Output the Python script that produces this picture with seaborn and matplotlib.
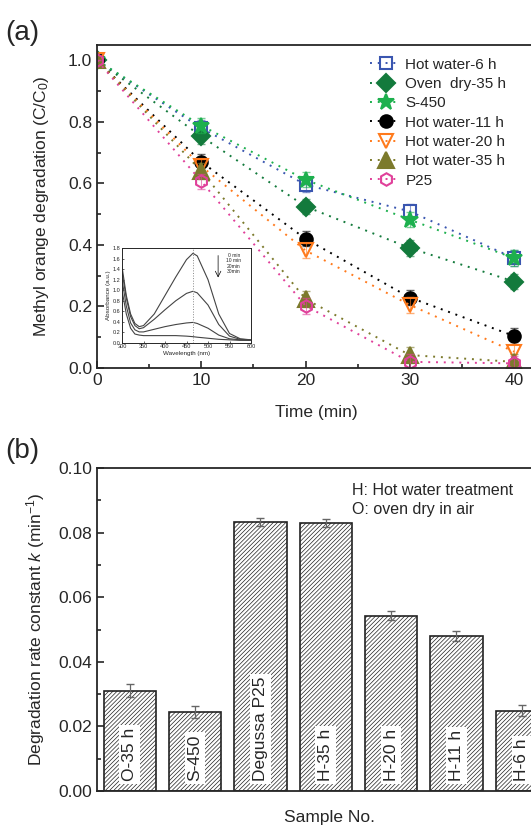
import numpy as np
import pandas as pd
import seaborn as sns
import matplotlib.pyplot as plt
from matplotlib.ticker import MultipleLocator

# ---- panel (a) data: C/C0 vs time ----
time = [0, 10, 20, 30, 40]
series_names = ["Hot water-6 h", "Oven  dry-35 h", "S-450", "Hot water-11 h",
                "Hot water-20 h", "Hot water-35 h", "P25"]
hw6 = [1.0, 0.78, 0.596, 0.509, 0.357]
oven35 = [1.0, 0.753, 0.525, 0.39, 0.281]
s450 = [1.0, 0.788, 0.612, 0.482, 0.357]
hw11 = [1.0, 0.67, 0.42, 0.229, 0.104]
hw20 = [1.0, 0.656, 0.382, 0.205, 0.053]
hw35 = [1.0, 0.64, 0.224, 0.042, 0.02]
p25 = [1.0, 0.607, 0.202, 0.02, 0.015]
err_a = [0.0, 0.025, 0.025, 0.025, 0.025]

# ---- inset spectra ----
wavelength = [300, 310, 320, 330, 340, 350, 375, 400, 425, 450, 465, 475, 500, 525, 550, 575, 600]
abs_0 = [1.45, 0.9, 0.55, 0.37, 0.31, 0.33, 0.55, 0.9, 1.25, 1.58, 1.70, 1.65, 1.2, 0.55, 0.18, 0.08, 0.06]
abs_10 = [1.35, 0.85, 0.5, 0.33, 0.27, 0.29, 0.45, 0.63, 0.80, 0.94, 0.98, 0.95, 0.72, 0.35, 0.13, 0.07, 0.06]
abs_20 = [1.2, 0.7, 0.38, 0.25, 0.21, 0.21, 0.26, 0.31, 0.35, 0.38, 0.39, 0.37, 0.28, 0.15, 0.08, 0.06, 0.05]
abs_30 = [1.0, 0.55, 0.28, 0.17, 0.15, 0.14, 0.14, 0.14, 0.14, 0.13, 0.12, 0.11, 0.09, 0.07, 0.06, 0.05, 0.05]

# ---- panel (b) data: rate constants ----
samples = ["O-35 h", "S-450", "Degussa P25", "H-35 h", "H-20 h", "H-11 h", "H-6 h"]
k_vals = [0.031, 0.0245, 0.0833, 0.083, 0.0543, 0.048, 0.0249]
k_err = [0.002, 0.0018, 0.0013, 0.0012, 0.0015, 0.0016, 0.0016]

sns.set_style("ticks")
plt.rcParams['font.family'] = ['Liberation Sans', 'DejaVu Sans']
plt.rcParams['mathtext.fontset'] = 'custom'
plt.rcParams['mathtext.rm'] = 'Liberation Sans'
plt.rcParams['mathtext.it'] = 'Liberation Sans:italic'
plt.rcParams['hatch.linewidth'] = 0.5

fig = plt.figure(figsize=(5.31, 8.32), dpi=100)

# ---------------- (a) ----------------
ax = fig.add_axes([97/531, 1-368/832, 438/531, 323/832])
styles = [
    dict(color="#3a56b0", marker="s", mfc="none", ms=8),
    dict(color="#137a3c", marker="D", mfc="#137a3c", ms=9),
    dict(color="#1db04e", marker="*", mfc="#1db04e", ms=12),
    dict(color="black", marker="o", mfc="black", ms=9),
    dict(color="#ff7a1c", marker="v", mfc="none", ms=10),
    dict(color="#7c7a2c", marker="^", mfc="#7c7a2c", ms=11),
    dict(color="#e0409a", marker="h", mfc="none", ms=9),
]
all_vals = [hw6, oven35, s450, hw11, hw20, hw35, p25]
for name, vals, st in zip(series_names, all_vals, styles):
    df = pd.DataFrame({"Time": time, "C": vals})
    sns.lineplot(data=df, x="Time", y="C", ax=ax, color=st["color"], linestyle=(0, (1, 3)),
                 lw=1.4, marker=st["marker"], markersize=st["ms"], markerfacecolor=st["mfc"],
                 markeredgecolor=st["color"], markeredgewidth=1.5, label=name)
    ax.errorbar(time, vals, yerr=err_a, fmt="none", ecolor=st["color"], elinewidth=0.8,
                capsize=3, alpha=0.6)

ax.set_xlim(0, 42)
ax.set_ylim(0, 1.05)
ax.xaxis.set_major_locator(MultipleLocator(10))
ax.xaxis.set_minor_locator(MultipleLocator(5))
ax.yaxis.set_minor_locator(MultipleLocator(0.1))
ax.tick_params(which="both", direction="in", labelsize=12.5, width=1.2)
ax.tick_params(which="major", length=5)
ax.tick_params(which="minor", length=3)
ax.set_xlabel("Time (min)", fontsize=12.5, labelpad=12)
ax.set_ylabel("Methyl orange degradation (C/C$_0$)", fontsize=12.5, labelpad=12)
for s in ax.spines.values():
    s.set_linewidth(1.3)
ax.legend(loc="upper left", bbox_to_anchor=(0.61, 0.98), frameon=False, fontsize=11,
          handlelength=2.0, handletextpad=0.3, labelspacing=0.35, borderaxespad=0)
ax.set_yticks([0, 0.2, 0.4, 0.6, 0.8, 1.0])
ax.set_yticklabels(["0.0", "0.2", "0.4", "0.6", "0.8", "1.0"])
fig.text(5/531, 1-40/832, "(a)", fontsize=20)

# inset
axi = fig.add_axes([122/531, 1-343/832, 129/531, 95/832])
for vals in [abs_0, abs_10, abs_20, abs_30]:
    sns.lineplot(x=wavelength, y=vals, ax=axi, color="#444444", lw=0.8)
axi.axvline(464, color="#888888", lw=0.7, ls=":")
axi.set_xlim(300, 600)
axi.set_ylim(0, 1.8)
axi.xaxis.set_major_locator(MultipleLocator(50))
axi.yaxis.set_major_locator(MultipleLocator(0.2))
axi.tick_params(direction="in", labelsize=4, length=1.5, width=0.5, pad=1)
axi.set_xlabel("Wavelength (nm)", fontsize=4.5, labelpad=1)
axi.set_ylabel("Absorbance (a.u.)", fontsize=4.5, labelpad=1)
for s in axi.spines.values():
    s.set_linewidth(0.7)
axi.text(0.92, 0.95, "0 min\n10 min\n20min\n30min", transform=axi.transAxes,
         fontsize=3.6, ha="right", va="top", linespacing=1.1)
axi.annotate("", xy=(0.745, 0.66), xytext=(0.745, 0.95), xycoords="axes fraction",
             arrowprops=dict(arrowstyle="->", lw=0.5, color="black"))

# ---------------- (b) ----------------
axb = fig.add_axes([97/531, 1-791/832, 464/531, 323/832])
dfb = pd.DataFrame({"Sample": samples, "k": k_vals})
sns.barplot(data=dfb, x="Sample", y="k", ax=axb, color="white", edgecolor="black",
            linewidth=1.2, width=0.8)
for p in axb.patches:
    p.set_hatch("////////")
    p.set_edgecolor("#222222")
axb.errorbar(range(len(samples)), k_vals, yerr=k_err, fmt="none", ecolor="#666666",
             elinewidth=0.9, capsize=3)
for i, lab in enumerate(samples):
    axb.text(i, 0.003, lab, rotation=90, ha="center", va="bottom", fontsize=12.5,
             bbox=dict(fc="white", ec="none", pad=2))
axb.set_xlim(-0.5, 6.6)
axb.set_ylim(0, 0.10)
axb.yaxis.set_minor_locator(MultipleLocator(0.01))
axb.set_xticks([])
axb.tick_params(which="both", direction="in", labelsize=12.5, width=1.2)
axb.tick_params(which="major", length=5)
axb.tick_params(which="minor", length=3)
axb.set_yticks([0, 0.02, 0.04, 0.06, 0.08, 0.10])
axb.set_yticklabels(["0.00", "0.02", "0.04", "0.06", "0.08", "0.10"])
axb.set_xlabel("Sample No.", fontsize=12.5, labelpad=14)
axb.set_ylabel("Degradation rate constant $\\mathit{k}$ (min$^{-1}$)", fontsize=12.5, labelpad=8)
for s in axb.spines.values():
    s.set_linewidth(1.3)
fig.text(352/531, 1-500/832, "H: Hot water treatment\nO: oven dry in air",
         fontsize=11.5, ha="left", va="center", linespacing=1.35)
fig.text(5/531, 1-458/832, "(b)", fontsize=20)

fig.savefig("out.png", dpi=100)
